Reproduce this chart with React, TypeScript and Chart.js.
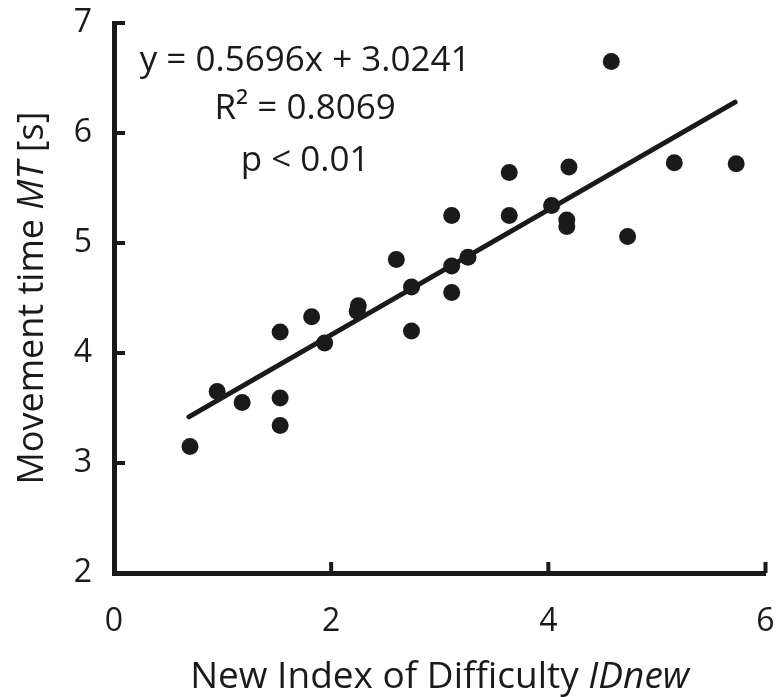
import React, { useEffect, useRef } from "react";
import { Chart, registerables } from "chart.js";

Chart.register(...registerables);

// Data
const idNew = [0.70, 0.95, 1.18, 1.53, 1.53, 1.53, 1.82, 1.94, 2.24, 2.25, 2.60, 2.74, 2.74, 3.11, 3.11, 3.11, 3.26, 3.64, 3.64, 4.03, 4.19, 4.17, 4.17, 4.58, 4.73, 5.16, 5.73];
const movementTime = [3.15, 3.65, 3.55, 4.19, 3.59, 3.34, 4.33, 4.09, 4.38, 4.43, 4.85, 4.60, 4.20, 5.25, 4.79, 4.55, 4.87, 5.64, 5.25, 5.34, 5.69, 5.21, 5.15, 6.65, 5.06, 5.73, 5.72];
const trendX = [0.69, 5.72];
const trendY = [3.42, 6.28];
const xTicks = [0, 2, 4, 6];
const yTicks = [2, 3, 4, 5, 6, 7];
const annotationLines = ["y = 0.5696x + 3.0241", "R\u00B2 = 0.8069", "p < 0.01"];
const xTitleParts: [string, boolean][] = [["New Index of Difficulty ", false], ["IDnew", true]];
const yTitleParts: [string, boolean][] = [["Movement time ", false], ["MT", true], [" [s]", false]];

const INK = "#1a1a1a";
const FAMILY = "'Open Sans', 'Noto Sans', sans-serif";

function drawMixed(ctx: CanvasRenderingContext2D, parts: [string, boolean][], cx: number, y: number, size: number) {
  const fonts = parts.map(([, it]) => `${it ? "italic " : ""}${size}px ${FAMILY}`);
  let total = 0;
  const widths = parts.map(([t], i) => {
    ctx.font = fonts[i];
    const w = ctx.measureText(t).width;
    total += w;
    return w;
  });
  let x = cx - total / 2;
  ctx.textAlign = "left";
  ctx.textBaseline = "alphabetic";
  parts.forEach(([t], i) => {
    ctx.font = fonts[i];
    ctx.fillText(t, x, y);
    x += widths[i];
  });
}

const decorPlugin = {
  id: "decor",
  afterDraw(chart: any) {
    const { ctx, chartArea, scales } = chart;
    const xs = scales.x;
    const ys = scales.y;
    ctx.save();
    ctx.strokeStyle = INK;
    ctx.lineWidth = 4;
    ctx.lineCap = "butt";
    xTicks.forEach((v) => {
      const px = xs.getPixelForValue(v);
      ctx.beginPath();
      ctx.moveTo(px, chartArea.bottom);
      ctx.lineTo(px, chartArea.bottom - 11);
      ctx.stroke();
    });
    yTicks.forEach((v) => {
      const py = ys.getPixelForValue(v);
      ctx.beginPath();
      ctx.moveTo(chartArea.left, py);
      ctx.lineTo(chartArea.left + 11, py);
      ctx.stroke();
    });

    ctx.fillStyle = INK;
    // regression annotation
    const annX = xs.getPixelForValue(1.76);
    const baselines = [63, 111, 163];
    annotationLines.forEach((t, i) => {
      drawMixed(ctx, [[t, false]], annX, baselines[i], 35);
    });

    // x axis title
    const cx = (chartArea.left + chartArea.right) / 2;
    drawMixed(ctx, xTitleParts, cx, 680, 37);

    // y axis title (rotated)
    const cy = (chartArea.top + chartArea.bottom) / 2;
    ctx.save();
    ctx.translate(35, cy);
    ctx.rotate(-Math.PI / 2);
    drawMixed(ctx, yTitleParts, 0, 0, 36);
    ctx.restore();
    ctx.restore();
  },
};

export default function App() {
  const ref = useRef<HTMLCanvasElement | null>(null);
  useEffect(() => {
    if (!ref.current) return;
    const chart = new Chart(ref.current, {
      type: "scatter",
      data: {
        datasets: [
          {
            label: "MT",
            data: idNew.map((x, i) => ({ x, y: movementTime[i] })),
            backgroundColor: INK,
            borderWidth: 0,
            pointRadius: 8.5,
            pointHoverRadius: 8.5,
          },
          {
            label: "fit",
            data: trendX.map((x, i) => ({ x, y: trendY[i] })),
            showLine: true,
            borderColor: INK,
            borderWidth: 5,
            pointRadius: 0,
            borderCapStyle: "round",
          } as any,
        ],
      },
      options: {
        animation: false,
        responsive: true,
        maintainAspectRatio: false,
        layout: { padding: { top: 15, right: 7, left: 0, bottom: 0 } },
        plugins: { legend: { display: false }, tooltip: { enabled: false } },
        scales: {
          x: {
            type: "linear",
            min: 0,
            max: 6,
            afterBuildTicks: (s: any) => {
              s.ticks = xTicks.map((v) => ({ value: v }));
            },
            afterFit: (s: any) => {
              s.height = 124;
              s.paddingLeft = 0;
              s.paddingRight = 0;
            },
            grid: { display: false, drawTicks: false },
            border: { display: true, color: INK, width: 5 },
            ticks: {
              color: INK,
              padding: 30,
              font: { family: FAMILY, size: 32 },
            },
          },
          y: {
            type: "linear",
            min: 2,
            max: 7,
            afterBuildTicks: (s: any) => {
              s.ticks = yTicks.map((v) => ({ value: v }));
            },
            afterFit: (s: any) => {
              s.width = 106;
              s.paddingTop = 0;
              s.paddingBottom = 0;
            },
            grid: { display: false, drawTicks: false },
            border: { display: true, color: INK, width: 5 },
            ticks: {
              color: INK,
              padding: 22,
              font: { family: FAMILY, size: 32 },
            },
          },
        },
      },
      plugins: [decorPlugin],
    });
    return () => chart.destroy();
  }, []);
  return (
    <div style={{ position: "relative", width: 766, height: 689 }}>
      <canvas ref={ref} />
    </div>
  );
}
